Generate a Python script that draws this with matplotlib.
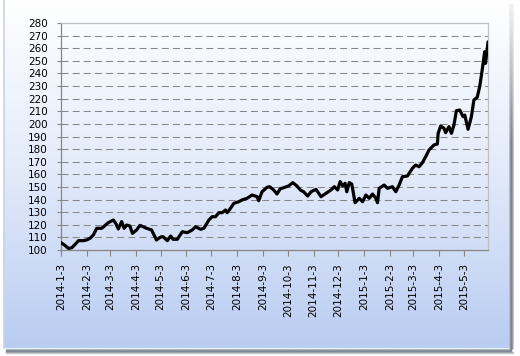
import numpy as np
import pandas as pd
import matplotlib
matplotlib.use("Agg")
import matplotlib.pyplot as plt
from matplotlib.colors import LinearSegmentedColormap

# valores
dates = ["2014-01-03", "2014-01-07", "2014-01-12", "2014-01-16", "2014-01-20", "2014-01-24",
         "2014-01-30", "2014-02-03", "2014-02-07", "2014-02-11", "2014-02-15", "2014-02-21",
         "2014-02-25", "2014-03-01", "2014-03-07", "2014-03-10", "2014-03-13", "2014-03-17",
         "2014-03-20", "2014-03-23", "2014-03-27", "2014-03-30", "2014-04-04", "2014-04-08",
         "2014-04-10", "2014-04-16", "2014-04-22", "2014-04-28", "2014-05-01", "2014-05-04",
         "2014-05-06", "2014-05-11", "2014-05-15", "2014-05-18", "2014-05-23", "2014-05-29",
         "2014-06-04", "2014-06-10", "2014-06-14", "2014-06-20", "2014-06-24", "2014-06-30",
         "2014-07-04", "2014-07-08", "2014-07-12", "2014-07-16", "2014-07-20", "2014-07-22",
         "2014-07-26", "2014-07-30", "2014-08-05", "2014-08-09", "2014-08-15", "2014-08-21",
         "2014-08-27", "2014-08-29", "2014-09-02", "2014-09-08", "2014-09-11", "2014-09-16",
         "2014-09-20", "2014-09-24", "2014-09-28", "2014-10-04", "2014-10-09", "2014-10-14",
         "2014-10-18", "2014-10-22", "2014-10-27", "2014-10-31", "2014-11-06", "2014-11-12",
         "2014-11-18", "2014-11-24", "2014-11-28", "2014-12-02", "2014-12-05", "2014-12-08",
         "2014-12-11", "2014-12-13", "2014-12-16", "2014-12-19", "2014-12-23", "2014-12-28",
         "2015-01-01", "2015-01-05", "2015-01-09", "2015-01-13", "2015-01-17", "2015-01-19",
         "2015-01-21", "2015-01-27", "2015-01-31", "2015-02-06", "2015-02-10", "2015-02-14",
         "2015-02-18", "2015-02-24", "2015-03-02", "2015-03-06", "2015-03-10", "2015-03-14",
         "2015-03-18", "2015-03-22", "2015-03-24", "2015-03-28", "2015-04-01", "2015-04-02",
         "2015-04-05", "2015-04-09", "2015-04-11", "2015-04-15", "2015-04-18", "2015-04-21",
         "2015-04-24", "2015-04-28", "2015-05-02", "2015-05-04", "2015-05-08", "2015-05-12",
         "2015-05-15", "2015-05-19", "2015-05-22", "2015-05-25", "2015-05-28", "2015-05-29",
         "2015-05-31", "2015-06-01"]
values = [105.8, 104.0, 101.3, 101.8, 104.5, 107.4,
          107.4, 108.0, 109.3, 112.0, 117.2, 117.2,
          119.5, 121.7, 123.8, 121.0, 116.7, 122.5,
          117.2, 119.8, 119.0, 113.2, 115.9, 119.5,
          119.0, 117.2, 115.9, 107.9, 109.5, 110.5,
          110.5, 107.4, 111.1, 108.5, 108.5, 114.5,
          113.7, 115.9, 118.5, 116.4, 117.2, 123.8,
          126.4, 126.4, 129.6, 129.6, 131.7, 129.6,
          133.0, 137.0, 138.3, 139.7, 141.0, 143.6,
          142.3, 139.1, 146.2, 149.7, 150.2, 147.6,
          144.4, 148.6, 149.4, 150.8, 153.4, 150.8,
          147.6, 146.2, 142.8, 146.2, 148.1, 142.3,
          145.0, 147.6, 150.2, 147.6, 154.2, 150.8,
          152.9, 146.2, 153.4, 152.3, 137.5, 141.0,
          138.3, 143.6, 141.0, 144.4, 141.0, 137.5,
          148.9, 151.5, 148.9, 150.2, 146.2, 151.5,
          158.1, 158.7, 164.8, 167.4, 166.0, 169.2,
          174.0, 179.3, 180.6, 183.3, 184.0, 192.5,
          198.3, 196.5, 193.0, 197.8, 192.5, 199.1,
          210.5, 211.0, 205.7, 207.0, 195.7, 205.7,
          218.9, 221.1, 229.5, 242.7, 257.2, 248.0,
          258.6, 265.0]

tick_dates = ["2014-01-03", "2014-02-03", "2014-03-03", "2014-04-03", "2014-05-03",
              "2014-06-03", "2014-07-03", "2014-08-03", "2014-09-03", "2014-10-03",
              "2014-11-03", "2014-12-03", "2015-01-03", "2015-02-03", "2015-03-03",
              "2015-04-03", "2015-05-03"]
tick_labels = ["2014-1-3", "2014-2-3", "2014-3-3", "2014-4-3", "2014-5-3", "2014-6-3",
               "2014-7-3", "2014-8-3", "2014-9-3", "2014-10-3", "2014-11-3", "2014-12-3",
               "2015-1-3", "2015-2-3", "2015-3-3", "2015-4-3", "2015-5-3"]
yticks = list(range(100, 281, 10))

W, H = 520, 356
fig = plt.figure(figsize=(W / 100, H / 100), dpi=100)

# fondo degradado + sombra (coordenadas en pixeles)
bg = fig.add_axes([0, 0, 1, 1], zorder=0)
bg.set_xlim(0, W)
bg.set_ylim(H, 0)
bg.axis("off")
cmap = LinearSegmentedColormap.from_list("bg", ["#ffffff", "#e2eafa", "#b9ccf1"])
grad = np.linspace(0, 1, 256).reshape(-1, 1)
bg.imshow(grad, extent=[4, 509, 348, 0], cmap=cmap, aspect="auto", zorder=1)
bg.plot([3.5, 3.5], [0, 348], color="#c9d3e3", lw=1.2, zorder=2)

shade = ["#b3bccb", "#8d95a3", "#7b8290", "#979ca6", "#c4c7cc"]
top_fade = np.linspace(0, 1, 100).reshape(-1, 1)
for i, c in enumerate(shade):
    col = matplotlib.colors.to_rgb(c)
    strip = np.ones((100, 1, 3)) * np.array([0.95, 0.95, 0.95])
    strip = strip + (np.array(col) - strip) * np.clip(top_fade[:, :, None] * 2.5, 0, 1)
    bg.imshow(strip, extent=[509 + i, 510 + i, 353 - i, 4], aspect="auto", zorder=2)
    bg.plot([6, 509 + i], [348.5 + i, 348.5 + i], color=c, lw=1, zorder=2)

ax = fig.add_axes([61 / W, 1 - 250 / H, 427 / W, 227 / H], zorder=1)
ax.patch.set_alpha(0)

ax.plot(pd.to_datetime(dates), values, color="black", lw=2.3,
        solid_joinstyle="round", solid_capstyle="round", zorder=3)

ax.set_ylim(100, 280)
ax.set_yticks(yticks)
ax.set_xlim(pd.Timestamp("2014-01-03"), pd.Timestamp("2015-06-01"))
ax.set_xticks(pd.to_datetime(tick_dates))
ax.set_xticklabels(tick_labels, rotation=90)

ax.grid(axis="y", linestyle=(0, (6.7, 4)), color="#878787", lw=0.75)
ax.set_axisbelow(True)
for s in ["left", "bottom"]:
    ax.spines[s].set_color("#878787")
for s in ["top", "right"]:
    ax.spines[s].set_color("#c0c0c0")
for s in ax.spines.values():
    s.set_linewidth(0.9)

ax.tick_params(axis="y", direction="out", length=3, color="#878787",
               labelsize=7.5, pad=6.5)
ax.tick_params(axis="x", direction="out", length=4, color="#878787",
               labelsize=7.5, pad=5.5)

fig.savefig("out.png", dpi=100)
